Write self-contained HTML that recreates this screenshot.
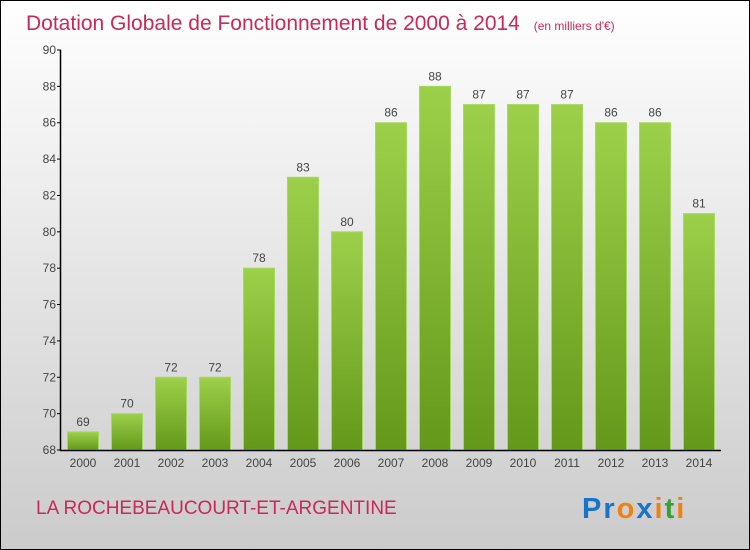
<!DOCTYPE html>
<html><head><meta charset="utf-8"><style>
body{margin:0;width:750px;height:550px;overflow:hidden}
svg{display:block;font-family:"Liberation Sans",sans-serif}
</style></head><body>
<svg id="c" width="750" height="550">
<defs>
<linearGradient id="bg" x1="0" y1="0" x2="0" y2="1"><stop offset="0" stop-color="#ffffff"/><stop offset="1" stop-color="#cbcbcb"/></linearGradient>
<linearGradient id="bar" x1="0" y1="0" x2="0" y2="1"><stop offset="0" stop-color="#9dd04a"/><stop offset="1" stop-color="#64981a"/></linearGradient>
</defs>
<rect x="0.5" y="0.5" width="749" height="549" fill="url(#bg)" stroke="#000"/>
<text x="26" y="30" font-size="21" fill="#c8285a">Dotation Globale de Fonctionnement de 2000 à 2014 <tspan font-size="12" dx="8">(en milliers d'€)</tspan></text>
<g id="plot"></g>
<text x="36" y="514" font-size="19" fill="#c8285a">LA ROCHEBEAUCOURT-ET-ARGENTINE</text>
<text x="582" y="518" font-size="29" font-weight="bold" letter-spacing="2"><tspan fill="#1a73c8">Pr</tspan><tspan fill="#f08010">o</tspan><tspan fill="#1a73c8">x</tspan><tspan fill="#f08010">i</tspan><tspan fill="#3aa030">t</tspan><tspan fill="#f08010">i</tspan></text>
</svg>
<script>
const categories=["2000","2001","2002","2003","2004","2005","2006","2007","2008","2009","2010","2011","2012","2013","2014"];
const values=[69,70,72,72,78,83,80,86,88,87,87,87,86,86,81];
const yTicks=[68,70,72,74,76,78,80,82,84,86,88,90];
const NS="http://www.w3.org/2000/svg";
const g=document.getElementById('plot');
const x0=61,x1=721,yMin=68,yMax=90,yTop=50,yBot=450;
const step=(x1-x0)/categories.length,bw=31;
const y=v=>yBot-(v-yMin)/(yMax-yMin)*(yBot-yTop);
const xc=i=>x0+step*(i+0.5);
function el(t,a){const e=document.createElementNS(NS,t);for(const k in a)e.setAttribute(k,a[k]);g.appendChild(e);return e;}
values.forEach((v,i)=>{
 const r=el('rect',{x:xc(i)-bw/2,y:y(v),width:bw,height:yBot-y(v),fill:'url(#bar)',stroke:'#a8d860','stroke-width':1});
 
 
 const t=el('text',{x:xc(i),y:y(v)-6,'text-anchor':'middle','font-size':12,fill:'#444'});
 t.textContent=v;
 
 
 const c=el('text',{x:xc(i),y:467,'text-anchor':'middle','font-size':12,fill:'#444'});
 c.textContent=categories[i];
 
 
});
yTicks.forEach(v=>{
 el('line',{x1:57,x2:61,y1:y(v),y2:y(v),stroke:'#000'});
 const t=el('text',{x:56,y:y(v)+4,'text-anchor':'end','font-size':12,fill:'#444'});
 t.textContent=v;
 
 
});
const ya=el('line',{x1:60.5,x2:60.5,y1:yTop,y2:yBot+1,stroke:'#000','stroke-width':1.5});


const xa=el('line',{x1:60,x2:x1,y1:yBot+0.5,y2:yBot+0.5,stroke:'#000','stroke-width':1.5});


</script>
</body></html>
